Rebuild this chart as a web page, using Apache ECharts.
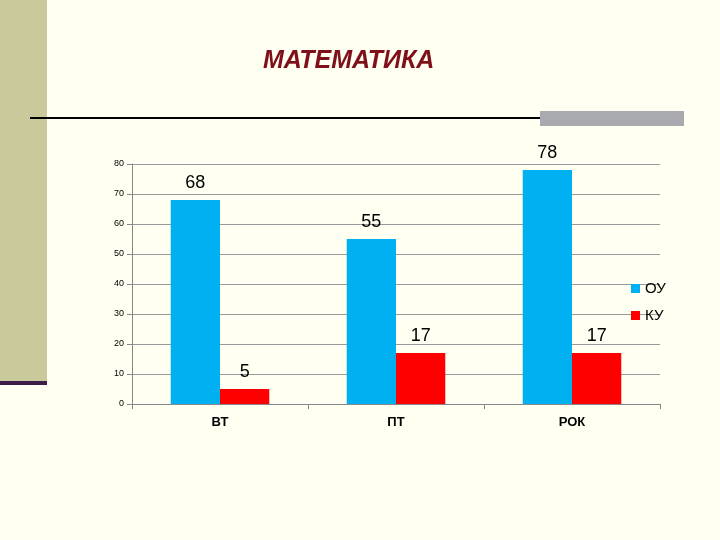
<!DOCTYPE html>
<html lang="ru">
<head>
<meta charset="UTF-8" />
<script src="https://cdn.jsdelivr.net/npm/echarts@6/dist/echarts.min.js"></script>
<style>
  html, body, #main { margin: 0; padding: 0; width: 720px; height: 540px; background: #fffff2; }
</style>
</head>
<body>
<div id="main"></div>
<script>
  const categories = ['ВТ', 'ПТ', 'РОК'];
  const seriesOU = [68, 55, 78];
  const seriesKU = [5, 17, 17];
  const seriesNames = ['ОУ', 'КУ'];

  const chart = echarts.init(document.getElementById('main'));
  const labelStyle = { show: true, position: 'top', distance: 8, fontSize: 18, color: '#000', fontFamily: 'Liberation Sans' };

  chart.setOption({
    backgroundColor: '#fffff2',
    animation: false,
    textStyle: { fontFamily: 'Liberation Sans' },
    title: {
      text: 'МАТЕМАТИКА', left: 258, top: 44,
      textStyle: { fontSize: 25, fontWeight: 'bold', fontStyle: 'italic', color: '#7f0f18' }
    },
    graphic: [
      { type: 'rect', shape: { x: 0, y: 0, width: 47, height: 382 }, style: { fill: '#c9c99b' } },
      { type: 'rect', shape: { x: 0, y: 381, width: 47, height: 4 }, style: { fill: '#3e1c4a' } },
      { type: 'rect', shape: { x: 30, y: 117, width: 512, height: 2 }, style: { fill: '#000' } },
      { type: 'rect', shape: { x: 540, y: 111, width: 144, height: 15 }, style: { fill: '#a9a9b0' } }
    ],
    legend: {
      orient: 'vertical', left: 626, top: 276, itemGap: 12,
      itemWidth: 9, itemHeight: 9, icon: 'rect',
      textStyle: { fontSize: 15, color: '#000' },
      data: seriesNames
    },
    grid: { left: 132, right: 60, top: 164, bottom: 136 },
    xAxis: {
      type: 'category', data: categories,
      axisLine: { lineStyle: { color: '#888' } },
      axisTick: { show: true, lineStyle: { color: '#888' } },
      axisLabel: { fontSize: 13, fontWeight: 'bold', color: '#000', margin: 12 }
    },
    yAxis: {
      type: 'value', min: 0, max: 80, interval: 10,
      axisLine: { show: true, lineStyle: { color: '#888' } },
      axisTick: { show: true, lineStyle: { color: '#888' } },
      axisLabel: { fontSize: 9, color: '#000' },
      splitLine: { lineStyle: { color: '#999' } }
    },
    series: [
      { name: seriesNames[0], type: 'bar', data: seriesOU, barGap: '0%', barCategoryGap: '44%',
        itemStyle: { color: '#00b0f0' }, label: labelStyle },
      { name: seriesNames[1], type: 'bar', data: seriesKU,
        itemStyle: { color: '#ff0000' }, label: labelStyle }
    ]
  });
</script>
</body>
</html>
